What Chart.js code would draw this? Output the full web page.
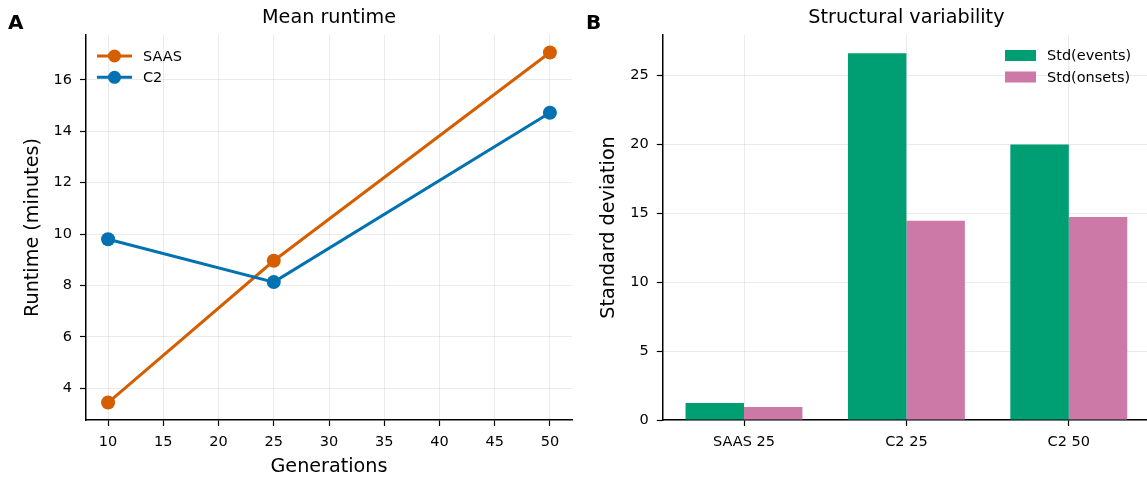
<!DOCTYPE html>
<html><head><meta charset="utf-8">
<script src="https://cdn.jsdelivr.net/npm/chart.js@4"></script>
<style>
html,body{margin:0;padding:0;background:#fff;overflow:hidden;width:1147px;height:479px;}
#a{position:absolute;left:0;top:0;}
#b{position:absolute;left:580px;top:0;}
</style></head><body>
<canvas id="a" width="580" height="479"></canvas>
<canvas id="b" width="570" height="479"></canvas>
<script>
// ---- data ----
const generations = [10, 25, 50];
const saasRuntime = [3.44, 8.96, 17.07];
const c2Runtime = [9.80, 8.13, 14.72];
const genTicks = [10, 15, 20, 25, 30, 35, 40, 45, 50];
const runtimeTicks = [4, 6, 8, 10, 12, 14, 16];

const configs = ['SAAS 25', 'C2 25', 'C2 50'];
const stdEvents = [1.24, 26.6, 19.98];
const stdOnsets = [0.94, 14.45, 14.73];
const stdTicks = [0, 5, 10, 15, 20, 25];

const FONT = "'DejaVu Sans', sans-serif";
Chart.defaults.font.family = FONT;
Chart.defaults.color = '#000';
const GRID = 'rgba(0,0,0,0.08)';
const TICKFONT = 14.5, LABELFONT = 19.2;

const decor = {
  id: 'decor',
  afterDraw(chart, args, o) {
    const ctx = chart.ctx, ca = chart.chartArea;
    ctx.save();
    ctx.fillStyle = '#000';
    ctx.textBaseline = 'alphabetic';
    ctx.textAlign = 'left';
    ctx.font = "bold 20px " + FONT;
    ctx.fillText(o.letter, o.letterX, 29);
    ctx.textAlign = 'center';
    ctx.font = LABELFONT + "px " + FONT;
    ctx.fillText(o.title, (ca.left + ca.right) / 2, 23);
    ctx.font = TICKFONT + "px " + FONT;
    ctx.textAlign = 'left';
    ctx.textBaseline = 'middle';
    chart.data.datasets.forEach((ds, i) => {
      const y = o.legendY[i];
      if (o.kind === 'line') {
        ctx.strokeStyle = ds.borderColor; ctx.lineWidth = 3;
        ctx.beginPath(); ctx.moveTo(o.lx0, y); ctx.lineTo(o.lx1, y); ctx.stroke();
        ctx.fillStyle = ds.borderColor;
        ctx.beginPath(); ctx.arc((o.lx0 + o.lx1) / 2, y, 6.5, 0, Math.PI * 2); ctx.fill();
      } else {
        ctx.fillStyle = ds.backgroundColor;
        ctx.fillRect(o.lx0, y - 5.5, o.lx1 - o.lx0, 11);
      }
      ctx.fillStyle = '#000';
      ctx.fillText(ds.label, o.tx, y + 0.8);
    });
    ctx.restore();
  }
};

function axisCommon(extra) {
  return Object.assign({
    grid: { color: GRID, lineWidth: 1, drawTicks: true, tickLength: 6, tickColor: '#000', tickWidth: 1.2 },
    border: { display: true, color: '#000', width: 1.5 },
    ticks: { font: { size: TICKFONT }, padding: 8, color: '#000' }
  }, extra);
}

new Chart(document.getElementById('a'), {
  type: 'line',
  data: {
    datasets: [
      { label: 'SAAS', data: generations.map((g, i) => ({ x: g, y: saasRuntime[i] })),
        borderColor: '#D55E00', backgroundColor: '#D55E00', borderWidth: 3,
        pointRadius: 7, pointBorderWidth: 0, pointBackgroundColor: '#D55E00', tension: 0, order: 1 },
      { label: 'C2', data: generations.map((g, i) => ({ x: g, y: c2Runtime[i] })),
        borderColor: '#0072B2', backgroundColor: '#0072B2', borderWidth: 3,
        pointRadius: 7, pointBorderWidth: 0, pointBackgroundColor: '#0072B2', tension: 0, order: 0 }
    ]
  },
  options: {
    responsive: false, animation: false,
    layout: { padding: { top: 35, right: 8, left: 0, bottom: 0 } },
    plugins: {
      legend: { display: false }, tooltip: { enabled: false },
      decor: { letter: 'A', letterX: 8, title: 'Mean runtime', kind: 'line',
               legendY: [56, 77.3], lx0: 97, lx1: 132, tx: 143 }
    },
    scales: {
      x: axisCommon({
        type: 'linear', min: 8, max: 52,
        afterBuildTicks: s => { s.ticks = genTicks.map(v => ({ value: v })); },
        afterFit: s => { s.height = 59; },
        title: { display: true, text: 'Generations', font: { size: LABELFONT }, padding: { top: 0, bottom: 0 }, color: '#000' }
      }),
      y: axisCommon({
        type: 'linear', min: 2.76, max: 17.75,
        afterBuildTicks: s => { s.ticks = runtimeTicks.map(v => ({ value: v })); },
        afterFit: s => { s.width = 86; },
        title: { display: true, text: 'Runtime (minutes)', font: { size: LABELFONT }, padding: { top: 21.6, bottom: 0 }, color: '#000' }
      })
    }
  },
  plugins: [decor]
});

new Chart(document.getElementById('b'), {
  type: 'bar',
  data: {
    labels: configs,
    datasets: [
      { label: 'Std(events)', data: stdEvents, backgroundColor: '#009E73', borderWidth: 0,
        categoryPercentage: 0.72, barPercentage: 1.0 },
      { label: 'Std(onsets)', data: stdOnsets, backgroundColor: '#CC79A7', borderWidth: 0,
        categoryPercentage: 0.72, barPercentage: 1.0 }
    ]
  },
  options: {
    responsive: false, animation: false,
    layout: { padding: { top: 35, right: 0, left: 0, bottom: 0 } },
    plugins: {
      legend: { display: false }, tooltip: { enabled: false },
      decor: { letter: 'B', letterX: 6, title: 'Structural variability', kind: 'bar',
               legendY: [55.5, 77], lx0: 425, lx1: 456, tx: 467 }
    },
    scales: {
      x: axisCommon({
        type: 'category', offset: true,
        grid: { offset: false, color: GRID, lineWidth: 1, drawTicks: true, tickLength: 6, tickColor: '#000', tickWidth: 1.2 },
        afterFit: s => { s.height = 59; }
      }),
      y: axisCommon({
        type: 'linear', min: 0, max: 27.93,
        afterBuildTicks: s => { s.ticks = stdTicks.map(v => ({ value: v })); },
        afterFit: s => { s.width = 82.8; },
        title: { display: true, text: 'Standard deviation', font: { size: LABELFONT }, padding: { top: 17.6, bottom: 0 }, color: '#000' }
      })
    }
  },
  plugins: [decor]
});
</script>
</body></html>
